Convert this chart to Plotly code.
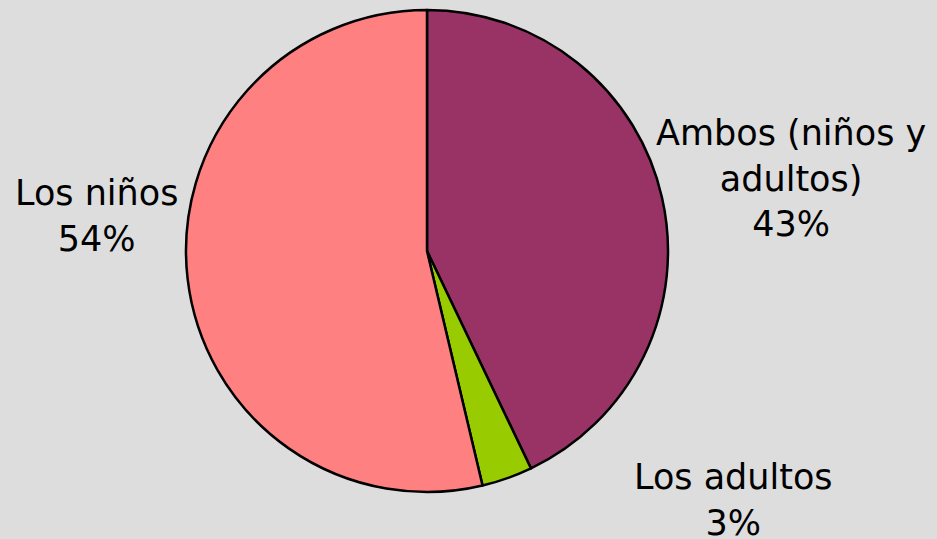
import plotly.graph_objects as go

labels = ["Ambos (niños y<br>adultos)", "Los adultos", "Los niños"]
values = [42.9, 3.4, 53.7]
pct_text = ["43%", "3%", "54%"]
colors = ["#993366", "#99CC00", "#FF8080"]

W, H = 937, 539
fig = go.Figure(go.Pie(
    labels=labels, values=values, sort=False, direction="clockwise", rotation=0,
    marker=dict(colors=colors, line=dict(color="black", width=2.5)),
    textinfo="none", hoverinfo="label+percent",
    domain=dict(x=[186 / W, 668 / W], y=[1 - 492 / H, 1 - 10 / H]),
    showlegend=False,
))

# label positions (pixels)
pos = [(791, 178), (733, 500), (96, 216)]
for lab, pt, (px, py) in zip(labels, pct_text, pos):
    fig.add_annotation(x=px / W, y=1 - py / H, xref="paper", yref="paper",
                       text=f"{lab}<br>{pt}", showarrow=False,
                       xanchor="center", yanchor="middle", align="center",
                       font=dict(family="DejaVu Sans", size=35, color="black"))

fig.update_layout(width=W, height=H, margin=dict(l=0, r=0, t=0, b=0),
                  paper_bgcolor="#DDDDDD", plot_bgcolor="#DDDDDD")
fig.write_html("out.html", config={"displayModeBar": False},
               post_script="document.body.style.margin='0';document.body.style.overflow='hidden';")
